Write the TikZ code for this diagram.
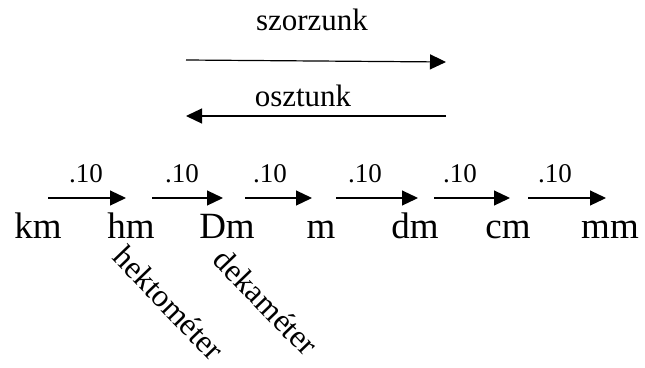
\documentclass[tikz,border=0pt]{standalone}
\usepackage{fontspec}
\setmainfont{Liberation Serif}
\usetikzlibrary{arrows.meta}
\begin{document}
\begin{tikzpicture}[x=1pt,y=-1pt,
  unit/.style={font=\fontsize{37}{40}\selectfont, anchor=base, inner sep=0pt},
  lbl/.style={font=\fontsize{31}{34}\selectfont, anchor=base, inner sep=0pt},
  stepnum/.style={font=\fontsize{27}{30}\selectfont, anchor=base, inner sep=0pt},
  rot/.style={font=\fontsize{32}{34}\selectfont, anchor=center, inner sep=0pt, rotate=-46},
  arr/.style={line width=1.2pt, -{Triangle[length=16pt,width=15pt]}},
  ]
\useasboundingbox (0,0) rectangle (645,367);
% top
\node[lbl] (sz) at (312,30) {szorzunk};
\coordinate (a1s) at (186,60); \coordinate (a1e) at (446,62);
\draw[arr] (a1s) -- (a1e);
\node[lbl] (osz) at (303,106) {osztunk};
\coordinate (a2s) at (446,116); \coordinate (a2e) at (186,116);
\draw[arr] (a2s) -- (a2e);
% units
\node[unit] (km) at (38,238) {km};
\node[unit] (hm) at (131,238) {hm};
\node[unit] (Dm) at (227,238) {Dm};
\node[unit] (m) at (321,238) {m};
\node[unit] (dm) at (415,238) {dm};
\node[unit] (cm) at (508,238) {cm};
\node[unit] (mm) at (610,238) {mm};
% step arrows
\foreach \i/\a/\b/\c in {1/48/126/86, 2/152/223/182, 3/245/312/270, 4/336/418/365, 5/434/510/460, 6/528/606/555}{
  \coordinate (s\i) at (\a,198);
  \coordinate (e\i) at (\b,198);
  \draw[arr] (s\i) -- (e\i);
  \node[stepnum] (t\i) at (\c,182) {.10};
}
% rotated names
\node[rot] (hek) at (169,303) {hektométer};
\node[rot] (dek) at (266,302) {dekaméter};
\end{tikzpicture}
\end{document}
